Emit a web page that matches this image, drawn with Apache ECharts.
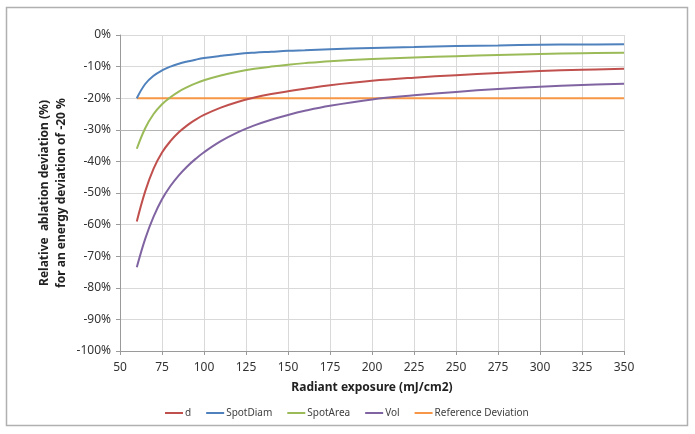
<!DOCTYPE html>
<html>
<head>
<meta charset="utf-8">
<script src="https://cdn.jsdelivr.net/npm/echarts@6/dist/echarts.min.js"></script>
<style>
html,body{margin:0;padding:0;background:#fff;}
#chart{width:695px;height:434px;}
</style>
</head>
<body>
<div id="chart"></div>
<script>
// Radiant exposure (mJ/cm2)
const exposure = [60, 65, 70, 75, 80, 85, 90, 95, 100, 110, 120, 130, 140, 150, 160, 175, 200, 225, 250, 275, 300, 325, 350];
// Relative ablation deviation (%)
const dDev        = [-59.0, -49.5, -42.3, -37.2, -33.6, -30.8, -28.6, -26.8, -25.3, -23.0, -21.2, -19.8, -18.7, -17.8, -17.0, -15.9, -14.5, -13.5, -12.7, -12.0, -11.4, -11.0, -10.7];
const spotDiamDev = [-20.0, -15.5, -12.9, -11.2, -10.0, -9.1, -8.4, -7.8, -7.3, -6.6, -6.0, -5.6, -5.3, -5.0, -4.8, -4.5, -4.1, -3.8, -3.5, -3.3, -3.1, -3.0, -2.9];
const spotAreaDev = [-36.0, -29.5, -25.0, -21.9, -19.7, -17.9, -16.5, -15.3, -14.3, -12.8, -11.6, -10.7, -10.0, -9.4, -8.9, -8.3, -7.6, -7.1, -6.7, -6.3, -6.0, -5.8, -5.6];
const volDev      = [-73.5, -64.5, -57.5, -52.0, -47.8, -44.4, -41.6, -39.2, -37.1, -33.6, -30.8, -28.6, -26.8, -25.3, -24.0, -22.4, -20.4, -19.1, -18.0, -17.1, -16.4, -15.8, -15.4];
const refDev      = [-20, -20, -20, -20, -20, -20, -20, -20, -20, -20, -20, -20, -20, -20, -20, -20, -20, -20, -20, -20, -20, -20, -20];

const seriesNames = ['d', 'SpotDiam', 'SpotArea', 'Vol', 'Reference Deviation'];
const seriesData = [dDev, spotDiamDev, spotAreaDev, volDev, refDev];
const colors = ['#C0504D', '#4F81BD', '#9BBB59', '#8064A2', '#F79646'];

const xTicks = {min: 50, max: 350, interval: 25};
const yTicks = {min: -100, max: 0, interval: 10};

const FONT = 'Noto Sans';

const chart = echarts.init(document.getElementById('chart'), null, {renderer: 'canvas'});

const series = seriesNames.map((name, i) => ({
  name: name,
  type: 'line',
  data: exposure.map((x, k) => [x, seriesData[i][k]]),
  smooth: i === 4 ? false : 0.4,
  showSymbol: false,
  symbol: 'none',
  lineStyle: {color: colors[i], width: 2},
  itemStyle: {color: colors[i]},
  z: i === 4 ? 2 : 3,
  animation: false
}));

// slightly darker grid lines visible in the reference
series[4].markLine = {
  silent: true,
  symbol: 'none',
  label: {show: false},
  lineStyle: {color: '#b4b4b4', width: 1, type: 'solid'},
  data: [{xAxis: 300}, {yAxis: -30}],
  z: 1
};

const option = {
  backgroundColor: '#ffffff',
  animation: false,
  color: colors,
  graphic: [{
    type: 'rect',
    shape: {x: 6.5, y: 7.5, width: 681, height: 418},
    style: {fill: 'none', stroke: '#b0b0b0', lineWidth: 1.5},
    silent: true
  }],
  grid: {left: 120, top: 35, width: 504, height: 316, containLabel: false},
  legend: {
    data: seriesNames,
    left: 160,
    top: 403,
    itemWidth: 18,
    itemHeight: 2,
    itemGap: 15,
    icon: 'rect',
    textStyle: {fontFamily: FONT, fontSize: 10, color: '#404040', padding: [0, 0, 0, -3]}
  },
  xAxis: {
    type: 'value',
    min: xTicks.min, max: xTicks.max, interval: xTicks.interval,
    name: 'Radiant exposure (mJ/cm2)',
    nameLocation: 'middle',
    nameGap: 31,
    nameMoveOverlap: false,
    nameTextStyle: {fontFamily: FONT, fontSize: 12, fontWeight: 'bold', color: '#222'},
    axisLine: {show: true, onZero: false, lineStyle: {color: '#9a9a9a', width: 1}},
    axisTick: {show: true, length: 4, lineStyle: {color: '#9a9a9a'}},
    axisLabel: {fontFamily: FONT, fontSize: 12, color: '#333', margin: 11},
    splitLine: {show: true, lineStyle: {color: '#d9d9d9', width: 1}}
  },
  yAxis: {
    type: 'value',
    min: yTicks.min, max: yTicks.max, interval: yTicks.interval,
    name: 'Relative  ablation deviation (%)\nfor an energy deviation of -20 %',
    nameLocation: 'middle',
    nameGap: 50,
    nameMoveOverlap: false,
    nameTextStyle: {fontFamily: FONT, fontSize: 12, fontWeight: 'bold', color: '#222', lineHeight: 17},
    axisLine: {show: true, onZero: false, lineStyle: {color: '#9a9a9a', width: 1}},
    axisTick: {show: true, length: 4, lineStyle: {color: '#9a9a9a'}},
    axisLabel: {fontFamily: FONT, fontSize: 12, color: '#333', margin: 9, formatter: '{value}%'},
    splitLine: {show: true, lineStyle: {color: '#d9d9d9', width: 1}}
  },
  series: series
};

chart.setOption(option);
</script>
</body>
</html>
